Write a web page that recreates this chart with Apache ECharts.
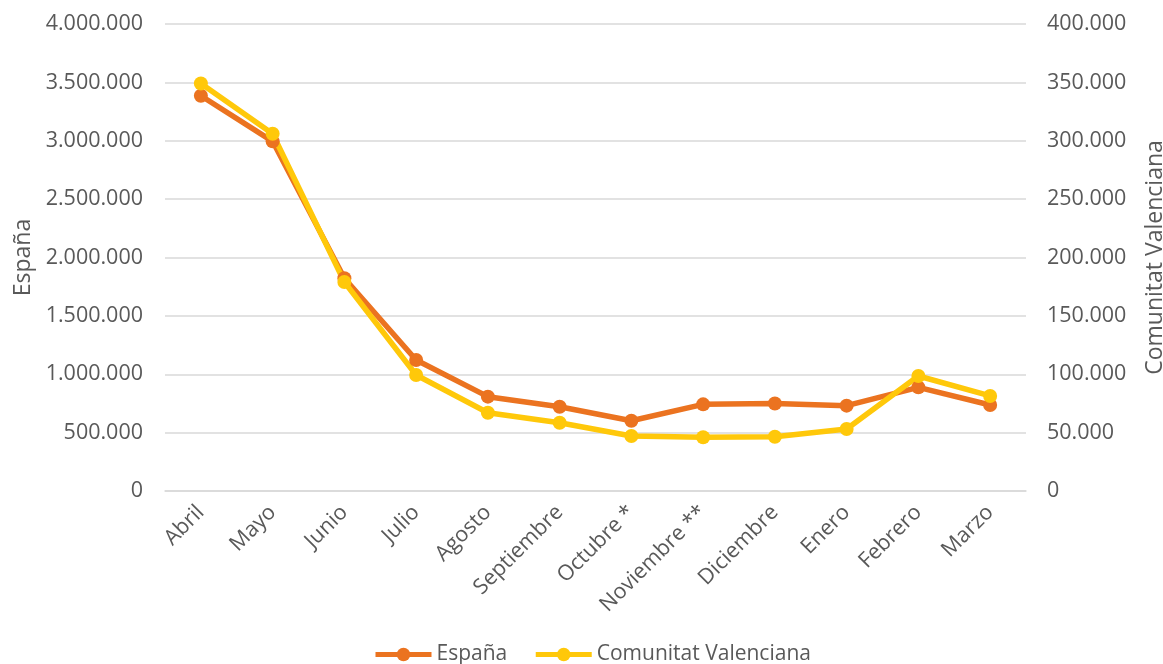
<!DOCTYPE html>
<html>
<head>
<meta charset="utf-8">
<script src="https://cdn.jsdelivr.net/npm/echarts@6/dist/echarts.min.js"></script>
<style>html,body{margin:0;padding:0;background:#fff;overflow:hidden}#c{width:1163px;height:664px}</style>
</head>
<body>
<div id="c"></div>
<script>
const categories = ['Abril','Mayo','Junio','Julio','Agosto','Septiembre','Octubre *','Noviembre **','Diciembre','Enero','Febrero','Marzo'];
const espana = [3385000, 2995000, 1822000, 1122000, 808000, 722000, 602000, 742000, 750000, 731000, 888000, 737000];
const valenciana = [349000, 306000, 179000, 99400, 67000, 58500, 47100, 46000, 46500, 53100, 98500, 81400];
const leftTicks = {min: 0, max: 4000000, interval: 500000};
const rightTicks = {min: 0, max: 400000, interval: 50000};

const fmt = v => String(Math.round(v)).replace(/\B(?=(\d{3})+(?!\d))/g, '.');
const font = '"Open Sans", "Noto Sans", sans-serif';
const txt = '#595959';
const fs = 21.5;
const nameFs = 23;

const chart = echarts.init(document.getElementById('c'), null, {renderer: 'canvas', width: 1163, height: 664});
chart.setOption({
  animation: false,
  textStyle: {fontFamily: font},
  grid: {left: 165, right: 137, top: 24, bottom: 173, containLabel: false, outerBoundsMode: 'none'},
  legend: {
    top: 639, left: 368,
    itemWidth: 56, itemHeight: 17, itemGap: 26,
    lineStyle: {width: 5},
    textStyle: {fontSize: 21, color: txt, fontFamily: font},
    data: ['España', 'Comunitat Valenciana']
  },
  xAxis: {
    type: 'category', data: categories, boundaryGap: true,
    axisLine: {show: true, lineStyle: {color: '#d9d9d9', width: 1.5}},
    axisTick: {show: false},
    axisLabel: {rotate: 45, fontSize: fs, color: txt, margin: 18, interval: 0, fontFamily: font}
  },
  yAxis: [{
    type: 'value', min: leftTicks.min, max: leftTicks.max, interval: leftTicks.interval,
    name: 'España', nameLocation: 'middle', nameGap: 129, nameRotate: 90,
    nameTextStyle: {fontSize: nameFs, color: txt, fontFamily: font},
    axisLine: {show: false}, axisTick: {show: false},
    axisLabel: {fontSize: fs, color: txt, margin: 22, formatter: fmt, fontFamily: font},
    splitLine: {lineStyle: {color: '#d9d9d9', width: 1.5}}
  }, {
    type: 'value', min: rightTicks.min, max: rightTicks.max, interval: rightTicks.interval,
    name: 'Comunitat Valenciana', nameLocation: 'middle', nameGap: 118, nameRotate: 90,
    nameTextStyle: {fontSize: nameFs, color: txt, fontFamily: font},
    axisLine: {show: false}, axisTick: {show: false},
    axisLabel: {fontSize: fs, color: txt, margin: 21, formatter: fmt, fontFamily: font},
    splitLine: {show: false}
  }],
  series: [{
    name: 'España', type: 'line', yAxisIndex: 0, data: espana,
    symbol: 'circle', symbolSize: 14,
    lineStyle: {color: '#EB7320', width: 5.5},
    itemStyle: {color: '#EB7320'}
  }, {
    name: 'Comunitat Valenciana', type: 'line', yAxisIndex: 1, data: valenciana,
    symbol: 'circle', symbolSize: 14,
    lineStyle: {color: '#FFC80A', width: 5.5},
    itemStyle: {color: '#FFC80A'}
  }]
});
</script>
</body>
</html>
